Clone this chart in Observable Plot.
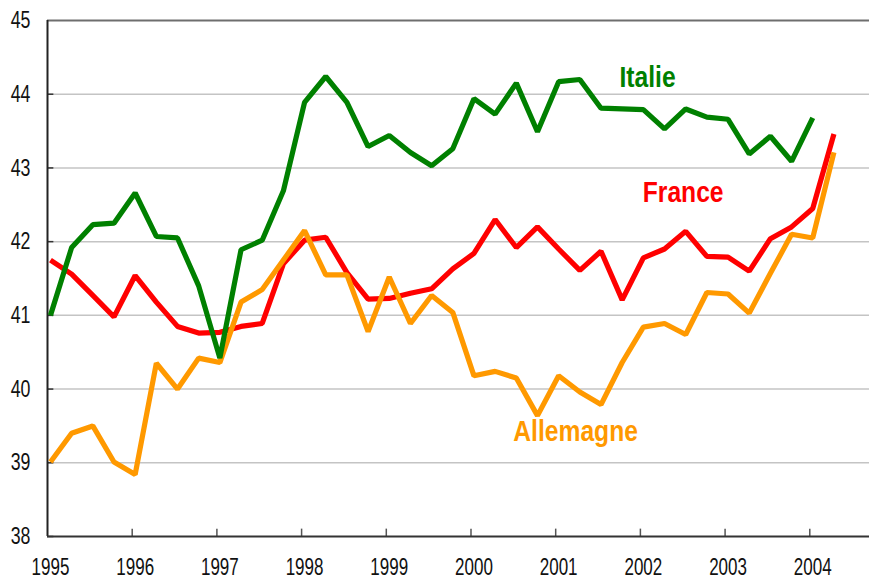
<!DOCTYPE html>
<html>
<head>
<meta charset="utf-8">
<script src="https://cdn.jsdelivr.net/npm/d3@7"></script>
<script src="https://cdn.jsdelivr.net/npm/@observablehq/plot@0.6"></script>
<style>
  html, body { margin: 0; padding: 0; background: #fff; }
  #chart svg { display: block; }
</style>
</head>
<body>
<div id="chart"></div>
<script>
// Quarterly series, 1995 Q1 onwards
const france = [41.75, 41.56, 41.27, 40.98, 41.54, 41.18, 40.85, 40.76, 40.77, 40.85, 40.89, 41.70, 42.02, 42.06, 41.58, 41.22, 41.23, 41.30, 41.36, 41.63, 41.84, 42.30, 41.92, 42.20, 41.90, 41.61, 41.87, 41.21, 41.78, 41.90, 42.14, 41.80, 41.79, 41.60, 42.04, 42.20, 42.45, 43.46];
const allemagne = [39.01, 39.40, 39.50, 39.01, 38.84, 40.35, 40.00, 40.42, 40.36, 41.18, 41.35, 41.75, 42.15, 41.55, 41.55, 40.78, 41.52, 40.89, 41.27, 41.04, 40.18, 40.24, 40.15, 39.64, 40.18, 39.96, 39.79, 40.36, 40.84, 40.89, 40.74, 41.31, 41.29, 41.03, 41.57, 42.10, 42.05, 43.21];
const italie = [41.00, 41.92, 42.23, 42.25, 42.66, 42.07, 42.05, 41.40, 40.42, 41.89, 42.02, 42.69, 43.89, 44.24, 43.89, 43.29, 43.44, 43.21, 43.03, 43.26, 43.94, 43.73, 44.15, 43.49, 44.17, 44.20, 43.81, 43.80, 43.79, 43.53, 43.80, 43.69, 43.66, 43.19, 43.43, 43.09, 43.68];
const startYear = 1995;
const seriesNames = ["France", "Allemagne", "Italie"];
const seriesColors = ["#ff0000", "#ff9900", "#008000"];
const xTickYears = [1995, 1996, 1997, 1998, 1999, 2000, 2001, 2002, 2003, 2004];
const yTicks = [38, 39, 40, 41, 42, 43, 44, 45];

const toRows = (vals, name) => vals.map((v, i) => ({t: startYear + i / 4, v, name}));
const rows = [
  ...toRows(france, "France"),
  ...toRows(allemagne, "Allemagne"),
  ...toRows(italie, "Italie")
];

const font = "'Liberation Sans', Arial, sans-serif";
const x0 = 1994.965;  // left edge of the plot area
const tickShift = 0.035;

const chart = Plot.plot({
  width: 869,
  height: 579,
  marginLeft: 47,
  marginRight: 0,
  marginTop: 20,
  marginBottom: 43,
  style: {fontFamily: font, background: "#fff", overflow: "visible"},
  x: {domain: [x0, 2004.67], axis: null},
  y: {domain: [38, 45], axis: null},
  color: {domain: seriesNames, range: seriesColors},
  marks: [
    Plot.ruleY(yTicks.filter(d => d > 38 && d < 45), {stroke: "#c4c4c4", strokeWidth: 1.5}),
    Plot.ruleY([45], {stroke: "#6e6e6e", strokeWidth: 2}),
    Plot.ruleY(yTicks.filter(d => d < 45), {x1: x0, x2: x0 + 0.075, stroke: "#333", strokeWidth: 1.5}),
    Plot.ruleX(xTickYears.slice(1).map(d => d - tickShift), {y1: 38, y2: 38.1, stroke: "#555", strokeWidth: 1.5}),
    Plot.ruleX([x0], {stroke: "#222", strokeWidth: 2}),
    Plot.ruleY([38], {stroke: "#333", strokeWidth: 2}),
    Plot.line(rows, {x: "t", y: "v", z: "name", stroke: "name", strokeWidth: 5.2, strokeLinejoin: "miter", strokeLinecap: "butt"}),
    Plot.text(yTicks, {y: d => d, text: d => String(d), frameAnchor: "left", dx: -17, textAnchor: "end", fontSize: 24, fill: "#111", className: "narrow-tick"}),
    Plot.text(xTickYears, {x: d => d, text: d => String(d), frameAnchor: "bottom", lineAnchor: "bottom", dy: 38.5, fontSize: 23, fill: "#111", className: "narrow-tick"}),
    Plot.text(["Italie"], {x: 2002.05, y: 44.23, text: d => d, fill: "#008000", fontSize: 29, fontWeight: "bold", className: "narrow-label"}),
    Plot.text(["France"], {x: 2002.47, y: 42.66, text: d => d, fill: "#ff0000", fontSize: 29, fontWeight: "bold", className: "narrow-label"}),
    Plot.text(["Allemagne"], {x: 2001.20, y: 39.42, text: d => d, fill: "#ff9900", fontSize: 29, fontWeight: "bold", className: "narrow-label"})
  ]
});

// Condense the text horizontally (the original uses a narrow typeface)
function condense(svg, scale) {
  svg.querySelectorAll("text").forEach(t => {
    const tr = t.getAttribute("transform");
    if (tr && /translate/.test(tr)) {
      t.setAttribute("transform", tr + ` scale(${scale},1)`);
    } else {
      const x = +(t.getAttribute("x") || 0), y = +(t.getAttribute("y") || 0);
      const base = tr ? tr + " " : "";
      t.removeAttribute("x"); t.removeAttribute("y");
      t.setAttribute("transform", `${base}translate(${x},${y}) scale(${scale},1)`);
    }
  });
}
chart.querySelectorAll("g").forEach(g => {
  const cls = g.getAttribute("class") || "";
  if (cls.includes("narrow-tick")) condense(g, 0.74);
  else if (cls.includes("narrow-label")) condense(g, 0.85);
});
document.getElementById("chart").appendChild(chart);
</script>
</body>
</html>
